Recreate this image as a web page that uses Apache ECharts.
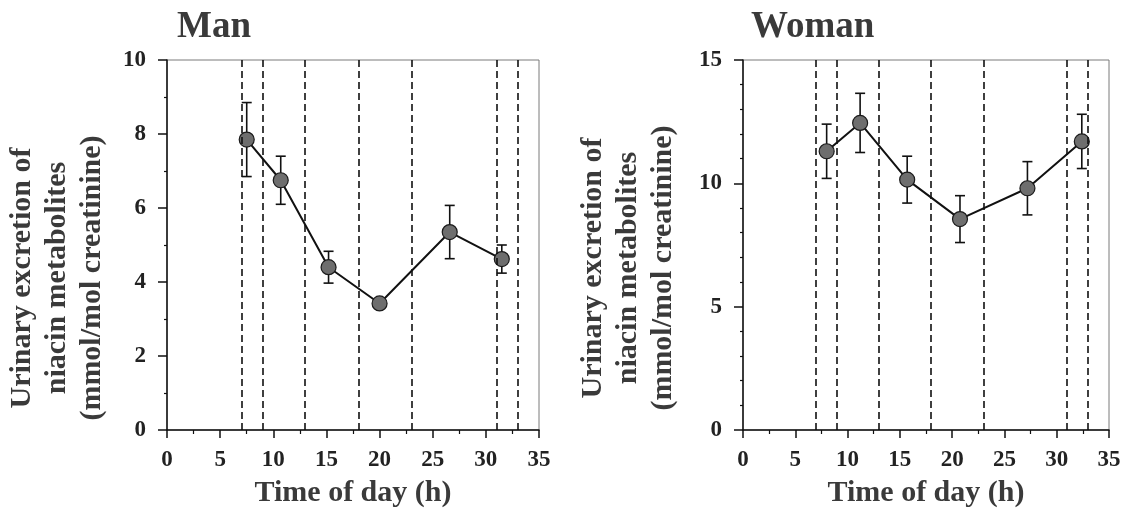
<!DOCTYPE html>
<html>
<head>
<meta charset="utf-8">
<script src="https://cdn.jsdelivr.net/npm/echarts@6/dist/echarts.min.js"></script>
<style>
  html, body { margin: 0; padding: 0; background: #fff; }
  #chart { width: 1127px; height: 520px; }
</style>
</head>
<body>
<div id="chart"></div>
<script>
// Sampling clock times (h) and mean ± SD of urinary niacin metabolites
const manHours = [7.5, 10.7, 15.2, 20.0, 26.6, 31.5];
const manMean = [7.85, 6.75, 4.4, 3.42, 5.35, 4.62];
const manSD = [1.0, 0.65, 0.43, 0.1, 0.72, 0.38];

const womanHours = [8.0, 11.2, 15.7, 20.75, 27.2, 32.4];
const womanMean = [11.3, 12.45, 10.15, 8.55, 9.8, 11.7];
const womanSD = [1.1, 1.2, 0.95, 0.95, 1.08, 1.1];

// Urine collection boundaries (dashed vertical lines)
const collectionTimes = [7, 9, 13, 18, 23, 31, 33];

const panelTitles = ['Man', 'Woman'];
const xName = 'Time of day (h)';
const yName = 'Urinary excretion of\nniacin metabolites\n(mmol/mol creatinine)';

const SERIF = '"Liberation Serif", "Times New Roman", serif';
const TEXT_DARK = '#222';
const TEXT_GREY = '#3a3a3a';

function pairs(xs, ys) { return xs.map((x, i) => [x, ys[i]]); }
function errTriples(xs, ys, sd) { return xs.map((x, i) => [x, ys[i] - sd[i], ys[i] + sd[i]]); }

function xAxisFor(gridIndex) {
  return {
    type: 'value', gridIndex, min: 0, max: 35, interval: 5,
    name: xName, nameLocation: 'middle', nameGap: 48,
    nameTextStyle: { fontFamily: SERIF, fontWeight: 'bold', fontSize: 30, color: TEXT_GREY },
    axisLine: { show: true, onZero: false, lineStyle: { color: '#111', width: 1.5 } },
    axisTick: { show: true, length: 8, lineStyle: { color: '#111', width: 1.5 } },
    minorTick: { show: true, splitNumber: 2, length: 4, lineStyle: { color: '#111', width: 1.2 } },
    axisLabel: { fontFamily: SERIF, fontWeight: 'bold', fontSize: 23, color: TEXT_DARK, margin: 19 },
    splitLine: { show: false }
  };
}

function yAxisFor(gridIndex, max, interval, minorSplit) {
  return {
    type: 'value', gridIndex, min: 0, max, interval,
    axisLine: { show: true, onZero: false, lineStyle: { color: '#111', width: 1.5 } },
    axisTick: { show: true, length: 9, lineStyle: { color: '#111', width: 1.5 } },
    minorTick: { show: true, splitNumber: minorSplit, length: 3, lineStyle: { color: '#111', width: 1.2 } },
    axisLabel: { fontFamily: SERIF, fontWeight: 'bold', fontSize: 23, color: TEXT_DARK, margin: 21 },
    splitLine: { show: false }
  };
}

function errorBarSeries(idx, data) {
  return {
    type: 'custom', xAxisIndex: idx, yAxisIndex: idx, z: 2,
    data,
    renderItem: function (params, api) {
      const x = api.value(0);
      const lo = api.coord([x, api.value(1)]);
      const hi = api.coord([x, api.value(2)]);
      const cap = 5;
      const style = { stroke: '#111', lineWidth: 1.6 };
      return {
        type: 'group',
        children: [
          { type: 'line', shape: { x1: hi[0], y1: hi[1], x2: lo[0], y2: lo[1] }, style },
          { type: 'line', shape: { x1: hi[0] - cap, y1: hi[1], x2: hi[0] + cap, y2: hi[1] }, style },
          { type: 'line', shape: { x1: lo[0] - cap, y1: lo[1], x2: lo[0] + cap, y2: lo[1] }, style }
        ]
      };
    }
  };
}

function meanSeries(idx, data) {
  return {
    type: 'line', xAxisIndex: idx, yAxisIndex: idx, z: 3,
    data,
    symbol: 'circle', symbolSize: 15,
    lineStyle: { color: '#111', width: 2 },
    itemStyle: { color: '#6e6e6e', borderColor: '#1a1a1a', borderWidth: 1.2 },
    emphasis: { disabled: true },
    markLine: {
      silent: true, symbol: 'none', animation: false,
      label: { show: false },
      lineStyle: { color: '#111', width: 1.6, type: [7, 4] },
      data: collectionTimes.map(t => ({ xAxis: t }))
    }
  };
}

const chart = echarts.init(document.getElementById('chart'), null, { renderer: 'canvas' });

chart.setOption({
  animation: false,
  backgroundColor: '#fff',
  title: [
    { text: panelTitles[0], left: 172, top: 4,
      textStyle: { fontFamily: SERIF, fontWeight: 'bold', fontSize: 37, color: TEXT_GREY } },
    { text: panelTitles[1], left: 746, top: 4,
      textStyle: { fontFamily: SERIF, fontWeight: 'bold', fontSize: 37, color: TEXT_GREY } }
  ],
  grid: [
    { left: 167, right: 588, top: 60, bottom: 90, show: true, borderColor: '#7a7a7a', borderWidth: 1 },
    { left: 743, right: 18, top: 60, bottom: 90, show: true, borderColor: '#7a7a7a', borderWidth: 1 }
  ],
  xAxis: [xAxisFor(0), xAxisFor(1)],
  yAxis: [yAxisFor(0, 10, 2, 2), yAxisFor(1, 15, 5, 5)],
  graphic: [
    { type: 'text', x: 57, y: 278, rotation: Math.PI / 2,
      style: { text: yName, font: 'bold 30px ' + SERIF, fill: TEXT_GREY,
               align: 'center', verticalAlign: 'middle', lineHeight: 35 } },
    { type: 'text', x: 628, y: 268, rotation: Math.PI / 2,
      style: { text: yName, font: 'bold 30px ' + SERIF, fill: TEXT_GREY,
               align: 'center', verticalAlign: 'middle', lineHeight: 35 } }
  ],
  series: [
    errorBarSeries(0, errTriples(manHours, manMean, manSD)),
    meanSeries(0, pairs(manHours, manMean)),
    errorBarSeries(1, errTriples(womanHours, womanMean, womanSD)),
    meanSeries(1, pairs(womanHours, womanMean))
  ]
});
</script>
</body>
</html>
